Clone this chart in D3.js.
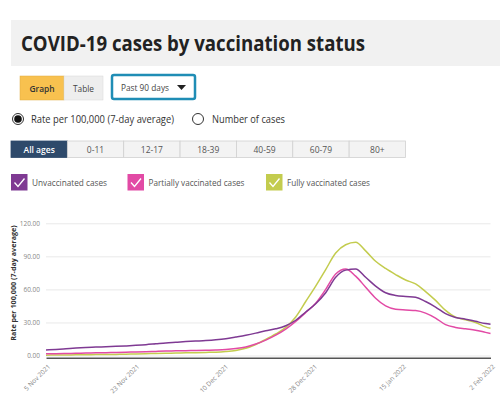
<!DOCTYPE html>
<html>
<head>
<meta charset="utf-8">
<script src="https://cdn.jsdelivr.net/npm/d3@7"></script>
<style>
  body { margin: 0; background: #fff; }
  svg { display: block; font-family: "Open Sans", sans-serif; }
</style>
</head>
<body>
<div id="chart"></div>
<script>
// data, read every 2 days from 5 Nov 2021 (day 0) to 2 Feb 2022 (day 89)
var days = [0,2,4,6,8,10,12,14,16,18,20,22,24,26,28,30,32,34,36,38,40,42,44,46,48,50,52,54,56,58,60,62,64,66,68,70,72,74,76,78,80,82,84,86,88,89];
var unvaccinated = [5.0,5.5,6.1,6.7,7.2,7.6,8.0,8.3,8.7,9.2,9.8,10.6,11.4,12.0,12.6,13.1,13.6,14.3,15.3,16.8,18.4,20.3,22.4,24.2,27.0,32.0,39.5,47.0,57.0,71.0,77.5,78.5,71.0,63.0,57.0,54.5,53.5,52.8,49.0,44.0,38.0,34.5,33.0,31.0,29.0,28.3];
var partially = [1.5,1.6,1.8,2.0,2.2,2.4,2.6,2.8,3.0,3.2,3.4,3.7,4.0,4.2,4.4,4.6,4.8,5.0,5.4,6.3,7.8,10.5,14.0,18.5,24.0,31.0,39.0,47.5,60.0,74.0,78.5,72.0,62.0,52.0,45.0,42.0,41.3,40.8,38.5,34.0,28.0,25.5,24.2,23.0,21.0,20.0];
var fully = [0.3,0.4,0.5,0.6,0.7,0.8,0.9,1.0,1.2,1.4,1.6,1.8,2.0,2.2,2.4,2.6,2.8,3.0,3.6,4.6,6.5,10.0,14.5,19.5,25.5,35.0,49.0,63.0,78.0,93.0,100.5,102.7,95.0,85.5,79.0,73.5,68.5,65.0,58.0,50.0,41.0,34.8,32.5,30.0,26.0,24.7];

var xTickLabels = ["5 Nov 2021","23 Nov 2021","10 Dec 2021","28 Dec 2021","15 Jan 2022","2 Feb 2022"];
var yTicks = [0, 30, 60, 90, 120];
var ageTabs = ["All ages","0-11","12-17","18-39","40-59","60-79","80+"];
var seriesNames = ["Unvaccinated cases","Partially vaccinated cases","Fully vaccinated cases"];
var seriesColors = ["#7f3a93","#e24aa5","#c3cc4e"];
var seriesData = [unvaccinated, partially, fully];

var W = 500, H = 398;
var svg = d3.select("#chart").append("svg")
  .attr("width", W)
  .attr("height", H);

// helper for text squeezed to the reference width
function label(xp, yp, size, width, str, color) {
  return svg.append("text")
    .attr("x", xp).attr("y", yp)
    .attr("font-size", size)
    .attr("fill", color || "#333")
    .attr("textLength", width)
    .attr("lengthAdjust", "spacingAndGlyphs")
    .text(str);
}

// header band
svg.append("rect")
  .attr("x", 11).attr("y", 20).attr("width", W - 11).attr("height", 46)
  .attr("fill", "#f1f1f1");
label(21, 51, 20.5, 344, "COVID-19 cases by vaccination status", "#222")
  .attr("font-weight", 700);

// graph / table toggle
svg.append("rect").attr("x", 20).attr("y", 76).attr("width", 44).attr("height", 24)
  .attr("fill", "#f8c14f").attr("stroke", "#e0ad40").attr("stroke-width", 0.5);
svg.append("rect").attr("x", 64).attr("y", 76).attr("width", 39).attr("height", 24)
  .attr("fill", "#eeeeee").attr("stroke", "#d8d8d8").attr("stroke-width", 0.5);
label(29.5, 92, 9.5, 25, "Graph").attr("font-weight", 600);
label(73, 92, 9.5, 21, "Table", "#444");

// dropdown
svg.append("rect").attr("x", 112).attr("y", 75).attr("width", 83).attr("height", 24)
  .attr("rx", 2).attr("fill", "#fff").attr("stroke", "#1f8db5").attr("stroke-width", 2.5);
label(121, 91, 9.5, 48, "Past 90 days", "#444");
svg.append("path").attr("d", "M177,85 L186,85 L181.5,90 Z").attr("fill", "#222");

// radio buttons
svg.append("circle").attr("cx", 18).attr("cy", 119).attr("r", 5.5)
  .attr("fill", "#fff").attr("stroke", "#333").attr("stroke-width", 1);
svg.append("circle").attr("cx", 18).attr("cy", 119).attr("r", 3.8).attr("fill", "#111");
label(31, 123, 10.5, 143, "Rate per 100,000 (7-day average)");
svg.append("circle").attr("cx", 198).attr("cy", 119).attr("r", 5.5)
  .attr("fill", "#fff").attr("stroke", "#333").attr("stroke-width", 1);
label(212, 123, 10.5, 73, "Number of cases");

// age tabs
var tabScale = d3.scaleBand().domain(ageTabs).range([11, 405.5]);
var tabs = svg.append("g").selectAll("g").data(ageTabs).enter().append("g");
tabs.append("rect")
  .attr("x", d => tabScale(d)).attr("y", 141)
  .attr("width", tabScale.bandwidth()).attr("height", 16.5)
  .attr("fill", (d, i) => i === 0 ? "#2e4a6b" : "#f3f3f3")
  .attr("stroke", (d, i) => i === 0 ? "#2e4a6b" : "#d0d0d0")
  .attr("stroke-width", 0.8);
tabs.append("text")
  .attr("x", d => tabScale(d) + tabScale.bandwidth() / 2).attr("y", 152.5)
  .attr("text-anchor", "middle")
  .attr("font-size", 8.5)
  .attr("font-weight", (d, i) => i === 0 ? 600 : 400)
  .attr("fill", (d, i) => i === 0 ? "#fff" : "#555")
  .text(d => d);

// legend checkboxes
var legendX = [11, 127.5, 266];
var legendW = [75, 96, 83];
var legend = svg.append("g").selectAll("g").data(seriesNames).enter().append("g")
  .attr("transform", (d, i) => "translate(" + legendX[i] + ",174)");
legend.append("rect").attr("width", 16.5).attr("height", 16.5)
  .attr("fill", (d, i) => seriesColors[i]);
legend.append("path").attr("d", "M3.5,8.5 L7,12.5 L13.5,4.5")
  .attr("fill", "none").attr("stroke", "#fff").attr("stroke-width", 1.3);
legend.append("text").attr("x", 21).attr("y", 12.3)
  .attr("font-size", 8.5).attr("fill", "#555")
  .attr("textLength", (d, i) => legendW[i])
  .attr("lengthAdjust", "spacingAndGlyphs")
  .text(d => d);

// chart
var x = d3.scaleLinear().domain([0, 89]).range([46, 490.5]);
var y = d3.scaleLinear().domain([-2, 120]).range([357.7, 223.3]);

// gridlines and y tick labels
var yAxis = svg.append("g")
  .attr("transform", "translate(46,0)")
  .call(d3.axisLeft(y).tickValues(yTicks).tickSize(-(490.5 - 46)).tickPadding(6)
    .tickFormat(d3.format(".2f")));
yAxis.select(".domain").remove();
yAxis.selectAll(".tick line").attr("stroke", "#e9e9e9").attr("stroke-width", 1);
yAxis.selectAll(".tick text").attr("font-size", 6.5).attr("fill", "#888")
  .attr("font-family", "Open Sans, sans-serif");

// y axis title
svg.append("text")
  .attr("transform", "translate(16,283) rotate(-90)")
  .attr("text-anchor", "middle")
  .attr("font-size", 7.2).attr("font-weight", 700).attr("fill", "#333")
  .text("Rate per 100,000 (7-day average)");

// x axis
var xTickVals = xTickLabels.map((d, i) => i * 89 / 5);
var xAxis = svg.append("g")
  .attr("transform", "translate(0,357.7)")
  .call(d3.axisBottom(x).tickValues(xTickVals).tickSize(0).tickPadding(0)
    .tickFormat((d, i) => xTickLabels[i]));
xAxis.select(".domain").attr("stroke", "#555").attr("stroke-width", 1.5);
xAxis.selectAll(".tick text")
  .attr("font-size", 6.5).attr("fill", "#888")
  .attr("font-family", "Open Sans, sans-serif")
  .attr("text-anchor", "end")
  .attr("transform", "translate(3,8) rotate(-45)")
  .attr("dy", "0.3em");

// series lines
var line = d3.line()
  .x((d, i) => x(days[i]))
  .y(d => y(d))
  .curve(d3.curveMonotoneX);

svg.append("g").selectAll("path")
  .data([fully, partially, unvaccinated])
  .enter().append("path")
  .attr("d", line)
  .attr("fill", "none")
  .attr("stroke", d => seriesColors[seriesData.indexOf(d)])
  .attr("stroke-width", 1.5);
</script>
</body>
</html>
